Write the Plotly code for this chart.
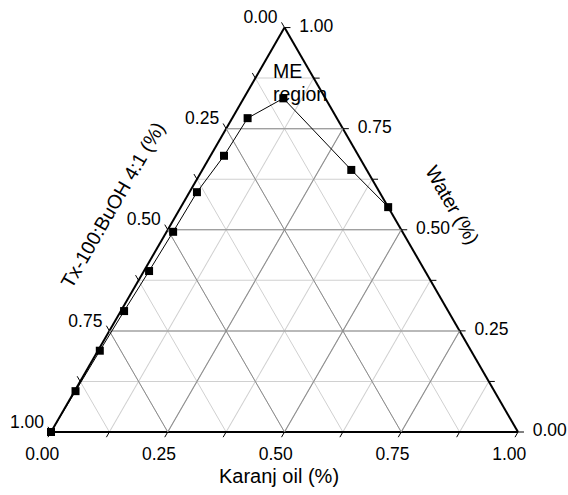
import math
import plotly.graph_objects as go

# Phase-boundary points (fractions)
water = [0.000, 0.101, 0.201, 0.299, 0.398, 0.495, 0.593, 0.683, 0.776, 0.825, 0.648, 0.556]
oil   = [0.000, 0.002, 0.004, 0.007, 0.011, 0.014, 0.016, 0.029, 0.033, 0.085, 0.319, 0.444]
surf  = [1.000, 0.897, 0.795, 0.694, 0.591, 0.491, 0.391, 0.288, 0.191, 0.090, 0.033, 0.000]

# Axis ticks (every 0.125, labelled every 0.25)
tick_vals = [0.0, 0.125, 0.25, 0.375, 0.5, 0.625, 0.75, 0.875, 1.0]
major_vals = [0.0, 0.25, 0.5, 0.75, 1.0]
major_text = ["0.00", "0.25", "0.50", "0.75", "1.00"]

FONT = "Liberation Sans, Arial, sans-serif"
W_FIG, H_FIG = 568, 495

# ---- geometry of the main triangle (layout) ----
EDGE = 467.0                     # edge length, px
X0, Y0 = 51.0, 432.0             # bottom-left vertex, px
HGT = EDGE * math.sqrt(3) / 2
domain_main = dict(x=[X0 / W_FIG, (X0 + EDGE) / W_FIG],
                   y=[(H_FIG - Y0) / H_FIG, (H_FIG - Y0 + HGT) / H_FIG])

# ---- an enlarged, invisible ternary frame used only for ticks and tick labels,
#      which sit just outside the main triangle ----
PAD_A, PAD_B, PAD_C = 0.040, 0.034, 0.017
K = 1 + PAD_A + PAD_B + PAD_C
bx = X0 - EDGE * (PAD_C + PAD_A / 2)
by = Y0 + HGT * PAD_A
domain_outer = dict(x=[bx / W_FIG, (bx + EDGE * K) / W_FIG],
                    y=[(H_FIG - by) / H_FIG, (H_FIG - by + HGT * K) / H_FIG])


def outer(a, b, c):
    """Map compositions of the main triangle into the enlarged frame."""
    f = lambda v, p: None if v is None else (v + p) / K
    return ([f(v, PAD_A) for v in a], [f(v, PAD_B) for v in b], [f(v, PAD_C) for v in c])


TICK = 0.0128       # tick length (~6 px)
OFF_LEFT = 0.015    # label offsets
OFF_BOTTOM = 0.0375
OFF_RIGHT = 0.0316

# tick marks, clockwise convention of the reference
ta, tb, tc = [], [], []
for s in tick_vals:            # left edge: Tx-100:BuOH, ticks along constant-surfactant lines
    ta += [1 - s, 1 - s + TICK, None]; tb += [s, s, None]; tc += [0, -TICK, None]
for o in tick_vals:            # bottom edge: Karanj oil, ticks along constant-oil lines
    ta += [0, -TICK, None]; tb += [1 - o, 1 - o + TICK, None]; tc += [o, o, None]
for w in tick_vals:            # right edge: Water, horizontal ticks
    ta += [w, w, None]; tb += [0, -TICK, None]; tc += [1 - w, 1 - w + TICK, None]

fig = go.Figure()

# main frame (axis lines + light minor grid); empty trace creates the subplot
fig.add_trace(go.Scatterternary(a=[], b=[], c=[], subplot="ternary",
                                showlegend=False, hoverinfo="skip"))

# ticks and tick labels in the enlarged frame
oa, ob, oc = outer(ta, tb, tc)
fig.add_trace(go.Scatterternary(
    a=oa, b=ob, c=oc, mode="lines", line=dict(color="black", width=1),
    subplot="ternary3", showlegend=False, hoverinfo="skip"))

label_font = dict(size=17.5, color="black", family=FONT)
la, lb, lc = outer([1 - s for s in major_vals], [s + OFF_LEFT for s in major_vals], [-OFF_LEFT] * 5)
fig.add_trace(go.Scatterternary(
    a=la, b=lb, c=lc, mode="text", text=major_text, textposition="top left",
    textfont=label_font, subplot="ternary3", cliponaxis=False,
    showlegend=False, hoverinfo="skip"))
ba_, bb_, bc_ = outer([-OFF_BOTTOM] * 5, [1 - o + OFF_BOTTOM for o in major_vals], list(major_vals))
fig.add_trace(go.Scatterternary(
    a=ba_, b=bb_, c=bc_, mode="text", text=major_text, textposition="bottom center",
    textfont=label_font, subplot="ternary3", cliponaxis=False,
    showlegend=False, hoverinfo="skip"))
ra, rb, rc = outer(list(major_vals), [-OFF_RIGHT] * 5, [1 - w + OFF_RIGHT for w in major_vals])
fig.add_trace(go.Scatterternary(
    a=ra, b=rb, c=rc, mode="text", text=major_text, textposition="middle right",
    textfont=label_font, subplot="ternary3", cliponaxis=False,
    showlegend=False, hoverinfo="skip"))

# data (drawn above the darker major grid)
fig.add_trace(go.Scatterternary(
    a=water, b=surf, c=oil,
    mode="lines+markers",
    line=dict(color="black", width=1),
    marker=dict(symbol="square", size=8, color="black"),
    subplot="ternary2", cliponaxis=False, showlegend=False,
))

base_axis = dict(
    tickmode="array", tickvals=tick_vals,
    ticks="", showticklabels=False,
    showline=True, linecolor="black", linewidth=2,
    showgrid=True, gridcolor="#d0d0d0", gridwidth=1,
    title=dict(text=""),
)
major_axis = dict(
    tickmode="array", tickvals=major_vals,
    ticks="", showticklabels=False, showline=False,
    showgrid=True, gridcolor="#8c8c8c", gridwidth=1,
    title=dict(text=""),
)
hidden_axis = dict(ticks="", showticklabels=False, showline=False, showgrid=False,
                   title=dict(text=""))

title_font = dict(size=19.5, family=FONT, color="black")
fig.update_layout(
    width=W_FIG, height=H_FIG,
    margin=dict(l=0, r=0, t=0, b=0),
    paper_bgcolor="white",
    font=dict(family=FONT, size=18, color="black"),
    ternary=dict(sum=1, domain=domain_main, bgcolor="white",
                 aaxis=base_axis, baxis=base_axis, caxis=base_axis),
    ternary2=dict(sum=1, domain=domain_main, bgcolor="rgba(0,0,0,0)",
                  aaxis=major_axis, baxis=major_axis, caxis=major_axis),
    ternary3=dict(sum=1, domain=domain_outer, bgcolor="rgba(0,0,0,0)",
                  aaxis=hidden_axis, baxis=hidden_axis, caxis=hidden_axis),
    annotations=[
        dict(text="Karanj oil (%)", x=278.5 / W_FIG, y=1 - 476 / H_FIG, xref="paper", yref="paper",
             xanchor="center", yanchor="middle", showarrow=False,
             font=dict(size=20, family=FONT, color="black")),
        dict(text="Water (%)", x=452.5 / W_FIG, y=1 - 205 / H_FIG, xref="paper", yref="paper",
             xanchor="center", yanchor="middle", showarrow=False, textangle=60, font=title_font),
        dict(text="Tx-100:BuOH 4:1 (%)", x=112.5 / W_FIG, y=1 - 205 / H_FIG, xref="paper", yref="paper",
             xanchor="center", yanchor="middle", showarrow=False, textangle=-60, font=title_font),
        dict(text="ME", x=271 / W_FIG, y=1 - 71 / H_FIG, xref="paper", yref="paper",
             xanchor="left", yanchor="middle", showarrow=False,
             font=dict(size=19.5, family=FONT, color="black")),
        dict(text="region", x=271 / W_FIG, y=1 - 94 / H_FIG, xref="paper", yref="paper",
             xanchor="left", yanchor="middle", showarrow=False,
             font=dict(size=19.5, family=FONT, color="black")),
    ],
)

fig.write_html("out.html", config={"displayModeBar": False},
               post_script="document.body.style.margin='0';")
